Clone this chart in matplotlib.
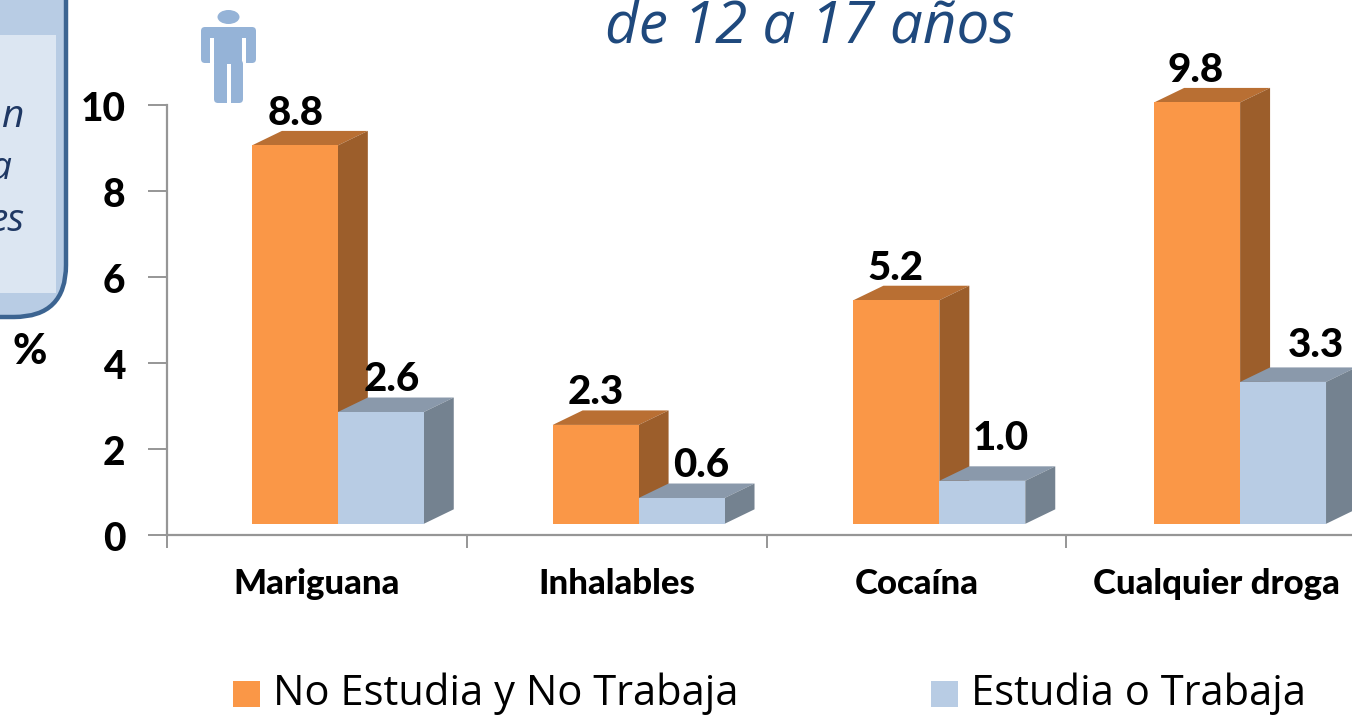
import matplotlib
matplotlib.use("Agg")
import matplotlib.pyplot as plt
from matplotlib.patches import FancyBboxPatch, Polygon, Rectangle, Ellipse
from matplotlib.transforms import ScaledTranslation

# --- data ---
categories = ["Mariguana", "Inhalables", "Cocaína", "Cualquier droga"]
no_estudia = [8.8, 2.3, 5.2, 9.8]
estudia = [2.6, 0.6, 1.0, 3.3]
y_ticks = [0, 2, 4, 6, 8, 10]
legend_names = ["No Estudia y No Trabaja", "Estudia o Trabaja"]

W, H = 1352, 715
ORANGE = ("#FA9747", "#B96F33", "#9C5E2B")
BLUE = ("#B8CCE4", "#8A99AB", "#748290")

plt.rcParams["font.family"] = ["Lato", "DejaVu Sans"]
fig = plt.figure(figsize=(W / 100, H / 100), dpi=100)

# axis runs past the right edge of the picture, like the original
ax = fig.add_axes([167 / W, 1 - 535 / H, 1199 / W, 430 / H])
ax.set_xlim(0, 4)
ax.set_ylim(0, 10)
ax.patch.set_alpha(0)
for s in ["top", "right"]:
    ax.spines[s].set_visible(False)
for s in ["left", "bottom"]:
    ax.spines[s].set_color("#969696")
    ax.spines[s].set_linewidth(1.6)
ax.set_yticks(y_ticks)
ax.set_yticklabels(y_ticks, fontsize=28, fontweight="black", va="center_baseline")
ax.set_xticks(range(5))
ax.set_xticklabels([])
ax.tick_params(axis="y", direction="out", length=14, width=1.4, color="#969696", pad=16)
ax.tick_params(axis="x", direction="out", length=9, width=1.4, color="#969696")
for lab in ax.get_yticklabels():
    lab.set_transform(lab.get_transform() + ScaledTranslation(0, -1 / 100, fig.dpi_scale_trans))

# 3D look: floor lifted off the axis, depth offset
base = 0.26
bar_w = 86 / 300
dx = 30 / 300
dy = 14.5 / 43
shift = 21 / 300
bar_step = 301 / 300

# hand placed offsets of the blue value labels, in pixels
label_dx = [54, 63, 61, 76]
label_dy = [0, 0, 10, 4]


def bar3d(x, val, cols, z):
    top = base + val
    ax.bar(x, val, width=bar_w, bottom=base, align="edge", color=cols[0], zorder=z + 1, linewidth=0, clip_on=False)
    ax.add_patch(Polygon([(x, top), (x + bar_w, top), (x + bar_w + dx, top + dy), (x + dx, top + dy)],
                         closed=True, fc=cols[1], ec="none", zorder=z, clip_on=False))
    ax.add_patch(Polygon([(x + bar_w, base), (x + bar_w + dx, base + dy), (x + bar_w + dx, top + dy), (x + bar_w, top)],
                         closed=True, fc=cols[2], ec="none", zorder=z, clip_on=False))


for i, cat in enumerate(categories):
    x2 = i * bar_step + 0.5 + shift
    x1 = x2 - bar_w
    bar3d(x1, no_estudia[i], ORANGE, 2)
    bar3d(x2, estudia[i], BLUE, 3)
    ax.text(i + 129 / 300, base + no_estudia[i] + dy - 0.02, f"{no_estudia[i]:.1f}", ha="center", va="bottom",
            fontsize=29, fontweight="black", zorder=6, clip_on=False)
    ax.text(x2 + label_dx[i] / 300, base + estudia[i] + dy - 0.02 + label_dy[i] / 43, f"{estudia[i]:.1f}",
            ha="center", va="bottom", fontsize=29, fontweight="black", zorder=6, clip_on=False)
    ax.text(i + 0.5, -1.13, cat, ha="center", va="center", fontsize=25, fontweight="black")

# --- overlay in pixel coordinates for title, callout, icon, legend ---
ov = fig.add_axes([0, 0, 1, 1], zorder=10)
ov.set_xlim(0, W)
ov.set_ylim(H, 0)
ov.axis("off")

ov.text(810, 44, "de 12 a 17 años", ha="center", va="baseline", fontsize=42,
        style="italic", color="#1F497D", family="Open Sans")
ov.text(30, 352, "%", ha="center", va="center", fontsize=30, fontweight="black")

# callout box cut by the left and top edges
ov.add_patch(FancyBboxPatch((-120, -120), 186, 437, boxstyle="round,pad=0,rounding_size=52",
                            fc="#B8CCE4", ec="#3C6491", lw=3.2))
ov.add_patch(Rectangle((0, 35), 56, 258, fc="#DCE6F2", ec="none"))
for tx, xr, yr in [("n", 23, 127), ("a", 11, 179), ("es", 24, 231)]:
    ov.text(xr, yr, tx, ha="right", va="baseline", fontsize=28, style="italic",
            color="#1F3864", family="Open Sans")

# person icon
ICON = "#95B3D7"
ov.add_patch(Ellipse((228.5, 17), 22, 14, fc=ICON, ec="none"))
ov.add_patch(FancyBboxPatch((201, 27), 55, 36, boxstyle="round,pad=0,rounding_size=4", fc=ICON, ec="none"))
ov.add_patch(Rectangle((210, 38), 4, 30, fc="white", ec="none"))
ov.add_patch(Rectangle((242, 38), 4, 30, fc="white", ec="none"))
ov.add_patch(FancyBboxPatch((214, 60), 29, 43, boxstyle="round,pad=0,rounding_size=4", fc=ICON, ec="none"))
ov.add_patch(Rectangle((226.5, 64), 4, 40, fc="white", ec="none"))

# legend
ov.add_patch(Rectangle((233, 681), 27, 26, fc=ORANGE[0], ec="none"))
ov.add_patch(Rectangle((931, 681), 27, 26, fc=BLUE[0], ec="none"))
ov.text(273, 705, legend_names[0], ha="left", va="baseline", fontsize=30, family="Open Sans")
ov.text(971, 705, legend_names[1], ha="left", va="baseline", fontsize=30, family="Open Sans")

fig.savefig("out.png", dpi=100)
